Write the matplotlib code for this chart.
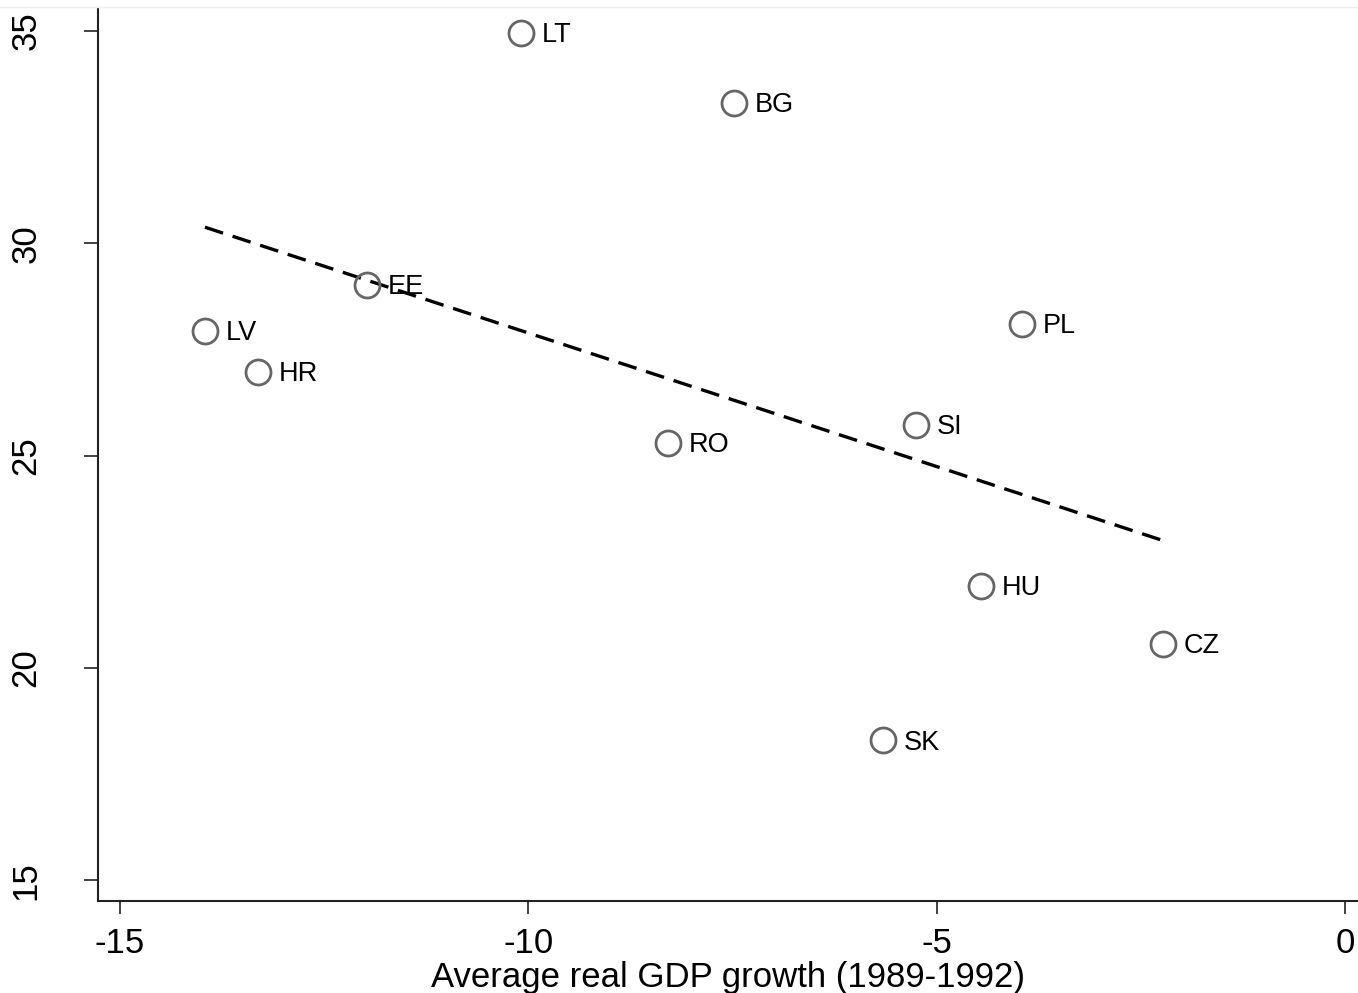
import numpy as np
import matplotlib
matplotlib.use("Agg")
import matplotlib.pyplot as plt
from matplotlib.lines import Line2D

plt.rcParams['font.family'] = ['Liberation Sans', 'DejaVu Sans']

# Country codes and values
countries = ["LT", "BG", "EE", "LV", "HR", "RO", "SI", "PL", "HU", "CZ", "SK"]
gdp_growth = [-10.09, -7.48, -11.98, -13.96, -13.31, -8.29, -5.25, -3.96, -4.46, -2.23, -5.66]
y_values = [34.95, 33.31, 29.02, 27.93, 26.97, 25.29, 25.73, 28.11, 21.92, 20.56, 18.29]

x_ticks = [-15, -10, -5, 0]
y_ticks = [15, 20, 25, 30, 35]

fig = plt.figure(figsize=(13.58, 9.93), dpi=100)
ax = fig.add_axes([98 / 1358, 1 - 901 / 993, 1 - 98 / 1358, (901 - 8) / 993])

# linear fit over the plotted points
x = np.array(gdp_growth)
y = np.array(y_values)
slope, intercept = np.polyfit(x, y, 1)
xs = np.array([x.min(), x.max()])
ax.plot(xs, slope * xs + intercept, color="black", lw=2.4,
        linestyle=(0, (5.7, 3.0)), zorder=2)

ax.plot(x, y, linestyle="none", marker="o", markersize=18,
        markerfacecolor="none", markeredgecolor="#666666",
        markeredgewidth=2.0, zorder=3)

for name, xi, yi in zip(countries, gdp_growth, y_values):
    ax.annotate(name, (xi, yi), xytext=(15, -1.5), textcoords="offset points",
                va="center", ha="left", fontsize=19.5, color="black", zorder=4)

ax.set_xlim(-15.27, 0.16)
ax.set_ylim(14.51, 35.54)
ax.set_xticks(x_ticks)
ax.set_yticks(y_ticks)
ax.set_xticklabels([str(t) for t in x_ticks])
ax.set_yticklabels([str(t) for t in y_ticks], rotation=90, va="center")

for side in ["top", "right"]:
    ax.spines[side].set_visible(False)
for side in ["left", "bottom"]:
    ax.spines[side].set_color("#222222")
    ax.spines[side].set_linewidth(1.5)

ax.tick_params(axis="x", length=9.5, width=1.2, color="#222222", labelsize=25, pad=9)
ax.tick_params(axis="y", length=10, width=1.2, color="#222222", labelsize=25, pad=30)

ax.set_xlabel("Average real GDP growth (1989-1992)", fontsize=25, labelpad=1)

# faint rule along the top of the figure
fig.add_artist(Line2D([0, 1], [1 - 7 / 993, 1 - 7 / 993], transform=fig.transFigure,
                      color="#eeeeee", lw=1))

fig.savefig("out.png", dpi=100, facecolor="white")
